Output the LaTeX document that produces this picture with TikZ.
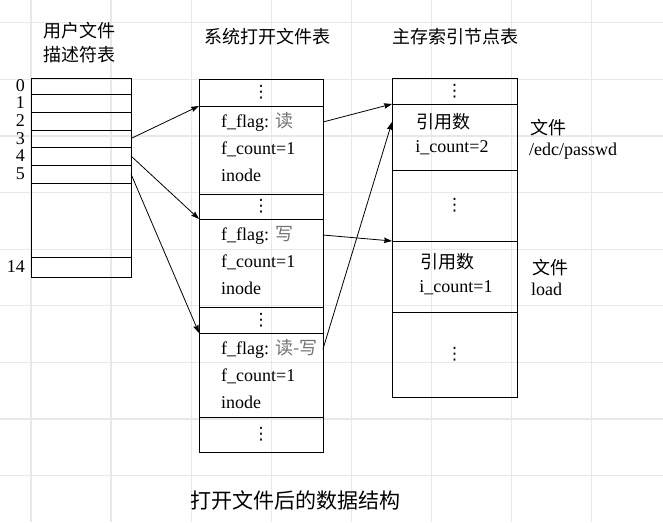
\documentclass[tikz,border=0pt]{standalone}
\usepackage{fontspec}
\setmainfont{Liberation Serif}
\newfontfamily\cjk{Noto Sans CJK SC}
\newfontfamily\sym{DejaVu Sans}
\usepackage{tikz}
\usetikzlibrary{arrows.meta}
\usetikzlibrary{positioning}

\newcommand{\vdt}{{\sym ⋮}}

\tikzset{
  cell/.style={draw, line width=0.9pt, anchor=north west, inner sep=0pt, outer sep=0pt, font=\fontsize{17}{20}\selectfont},
  txt/.style={anchor=west, inner sep=0pt, font=\fontsize{18}{20}\selectfont},
  ctxt/.style={inner sep=0pt, font=\fontsize{18}{24}\selectfont\cjk},
  num/.style={inner sep=0pt, font=\fontsize{18}{20}\selectfont},
  arr/.style={-{Stealth[length=8pt,width=5.5pt,inset=1pt]}, line width=0.8pt},
  gridline/.style={draw=black!9, line width=1.2pt}
}

\begin{document}
\begin{tikzpicture}[x=1pt,y=-1pt]
\useasboundingbox (0,0) rectangle (663,522);
% background grid
\foreach \i in {0,...,7} \draw[gridline] ({31+80.07*\i},0) -- ++(0,522);
\foreach \j in {0,...,8} \draw[gridline] (0,{22.7+56.6*\j}) -- ++(663,0);

% user file descriptor table
\node[ctxt, align=center] (uhead) at (79,43) {用户文件\\描述符表};
\node[cell, minimum width=100, minimum height=199] (utab) at (31,78) {};
\foreach \n/\y/\h in {0/78/16, 1/94/18, 2/112/18, 3/130/17, 4/147/18, 5/165/18, 14/257/20}{
  \node[cell, minimum width=100, minimum height=\h] (r\n) at (31,\y) {};
  \node[num, left=6pt of r\n.west] (n\n) {\n};
}

% system open file table
\node[ctxt] (ohead) at (267,37) {系统打开文件表};
\foreach \n/\y/\h in {o0/79/27, o1/194/25, o2/307/26, o3/417/35}
  \node[cell, minimum width=124, minimum height=\h] (\n) at (199,\y) {\vdt};
\foreach \k/\y/\h/\f in {1/106/88/读, 2/219/88/写, 3/333/84/读-写}{
  \node[cell, minimum width=124, minimum height=\h] (b\k) at (199,\y) {};
  \node[txt] (fl\k) at (221,\y+16) {f\_flag: {\cjk\color{black!55}\f}};
  \node[txt] (fc\k) at (221,\y+43) {f\_count=1};
  \node[txt] (ino\k) at (221,\y+69) {inode};
}

% inode table
\node[ctxt] (ihead) at (455,37) {主存索引节点表};
\foreach \n/\y/\h in {i0/78/26, i1/170/71, i2/312/85}
  \node[cell, minimum width=125, minimum height=\h] (\n) at (392,\y) {\vdt};
\node[cell, minimum width=125, minimum height=66] (in1) at (392,104) {};
\node[cell, minimum width=125, minimum height=71] (in2) at (392,241) {};
\node[ctxt] (rc1) at (443,122) {引用数};
\node[txt, anchor=center] (ic1) at (452,148) {i\_count=2};
\node[ctxt] (rc2) at (447,262) {引用数};
\node[txt, anchor=center] (ic2) at (456,288) {i\_count=1};

\node[ctxt, anchor=west] (fa) at (530,128) {文件};
\node[txt] (fna) at (529,151) {/edc/passwd};
\node[ctxt, anchor=west] (fb) at (532,268) {文件};
\node[txt] (fnb) at (531,289) {load};

\node[ctxt, font=\fontsize{21}{24}\selectfont\cjk] (cap) at (295,500) {打开文件后的数据结构};

% pointers
\draw[arr] (r3.east) -- (b1.north west);
\draw[arr] (r4.east) -- (b2.north west);
\draw[arr] (r5.east) -- (b3.north west);
\draw[arr] (b1.east |- fl1) -- (in1.north west);
\draw[arr] (b2.east |- fl2) -- (in2.north west);
\draw[arr] (b3.east |- fl3) -- (in1.west |- rc1);
\end{tikzpicture}
\end{document}
